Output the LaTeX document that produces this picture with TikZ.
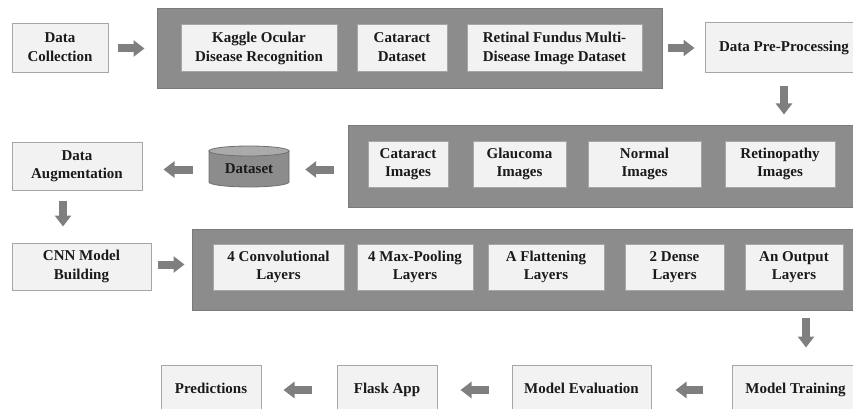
\documentclass[tikz,border=0pt]{standalone}
\usepackage{fontspec}
\setmainfont{Liberation Serif}
\usetikzlibrary{arrows.meta,calc}
\definecolor{boxfill}{HTML}{F2F2F2}
\definecolor{boxline}{HTML}{A6A6A6}
\definecolor{contfill}{HTML}{8C8C8C}
\definecolor{contline}{HTML}{7A7A7A}
\definecolor{arrowgray}{HTML}{7F7F7F}
\definecolor{cylbody}{HTML}{8C8C8C}
\definecolor{cyltop}{HTML}{AAAAAA}
\definecolor{cylline}{HTML}{6E6E6E}
\definecolor{txt}{HTML}{1A1A1A}
\newcommand\mystrut{\rule[-3pt]{0pt}{13pt}}
\begin{document}
\begin{tikzpicture}[x=1pt,y=-1pt,
  every node/.style={font=\fontsize{15}{18.5}\selectfont\bfseries, text=txt, align=center, inner sep=0pt,
    execute at begin node=\mystrut, execute at end node=\mystrut},
  stepbox/.style={draw=boxline, fill=boxfill, line width=1pt},
  container/.style={draw=contline, fill=contfill, line width=1pt},
  ba/.style={draw=arrowgray, line width=8pt, -{Triangle[length=11pt,width=16pt]}},
]
\useasboundingbox (0,0) rectangle (853,409);

% Row 1
\node[stepbox, minimum width=96, minimum height=49] (dc) at (60,48.5) {Data\\Collection};
\node[container, minimum width=505, minimum height=80] (c1) at (409.5,49) {};
\node[stepbox, minimum width=156, minimum height=47] (k1) at (259,48.5) {Kaggle Ocular\\Disease Recognition};
\node[stepbox, minimum width=90, minimum height=47] (k2) at (402,48.5) {Cataract\\Dataset};
\node[stepbox, minimum width=175, minimum height=47] (k3) at (554.5,48.5) {Retinal Fundus Multi-\\Disease Image Dataset};
\node[stepbox, minimum width=158, minimum height=50] (dpp) at (784,48) {Data Pre-Processing};

% Row 2
\node[container, minimum width=510, minimum height=82] (c2) at (603,166) {};
\node[stepbox, minimum width=80, minimum height=46] (ci1) at (408,164) {Cataract\\Images};
\node[stepbox, minimum width=93, minimum height=46] (ci2) at (519.5,164) {Glaucoma\\Images};
\node[stepbox, minimum width=113, minimum height=46] (ci3) at (644.5,164) {Normal\\Images};
\node[stepbox, minimum width=110, minimum height=46] (ci4) at (780,164) {Retinopathy\\Images};

\coordinate (dsc) at (249,166.5);
\fill[cylbody, draw=cylline, line width=0.8pt] ($(dsc)+(-40,-15.5)$) -- ($(dsc)+(-40,15.5)$)
  arc[start angle=180, end angle=360, x radius=40pt, y radius=5pt] -- ($(dsc)+(40,-15.5)$) -- cycle;
\draw[fill=cyltop, draw=cylline, line width=0.8pt] ($(dsc)+(0,-15.5)$) ellipse[x radius=40pt, y radius=5pt];
\node[minimum width=80, minimum height=41] (ds) at ($(dsc)+(0,3)$) {Dataset};

\node[stepbox, minimum width=130, minimum height=48] (da) at (77,166) {Data\\Augmentation};

% Row 3
\node[stepbox, minimum width=139, minimum height=47] (cnn) at (81.5,266.5) {CNN Model\\Building};
\node[container, minimum width=662, minimum height=81] (c3) at (523,269.5) {};
\node[stepbox, minimum width=131, minimum height=46] (l1) at (278.5,267) {4 Convolutional\\Layers};
\node[stepbox, minimum width=116, minimum height=46] (l2) at (415,267) {4 Max-Pooling\\Layers};
\node[stepbox, minimum width=116, minimum height=46] (l3) at (546,267) {A Flattening\\Layers};
\node[stepbox, minimum width=99, minimum height=46] (l4) at (674.5,267) {2 Dense\\Layers};
\node[stepbox, minimum width=98, minimum height=46] (l5) at (794,267) {An Output\\Layers};

% Row 4
\node[stepbox, minimum width=100, minimum height=50] (pred) at (211,390) {Predictions};
\node[stepbox, minimum width=100, minimum height=50] (fa) at (387,390) {Flask App};
\node[stepbox, minimum width=139, minimum height=50] (me) at (581.5,390) {Model Evaluation};
\node[stepbox, minimum width=127, minimum height=50] (mt) at (795.5,390) {Model Training};

% Arrows
\draw[ba, shorten <=9pt, shorten >=12pt] (dc.east) -- (dc.east -| c1.west);
\draw[ba, shorten <=5pt, shorten >=10pt] (c1.east |- dpp.west) -- (dpp.west);
\draw[ba, shorten <=13pt, shorten >=10pt] (dpp.south) -- (dpp.south |- c2.north);
\draw[ba, shorten <=14pt, shorten >=16pt] (c2.west |- ds.east) -- (ds.east);
\draw[ba, shorten <=16pt, shorten >=21pt] (ds.west) -- (ds.west -| da.east);
\coordinate (dad) at ($(da.south)+(-14,0)$);
\draw[ba, shorten <=10pt, shorten >=16pt] (dad) -- (dad |- cnn.north);
\draw[ba, shorten <=6pt, shorten >=7pt] ($(cnn.east)+(0,-2)$) -- ($(cnn.east -| c3.west)+(0,-2)$);
\coordinate (c3d) at (c3.south -| {(806,0)});
\draw[ba, shorten <=7pt, shorten >=17pt] (c3d) -- (c3d |- mt.north);
\draw[ba, shorten <=29pt, shorten >=24pt] (mt.west) -- (me.east);
\draw[ba, shorten <=23pt, shorten >=23pt] (me.west) -- (fa.east);
\draw[ba, shorten <=25pt, shorten >=22pt] (fa.west) -- (pred.east);
\end{tikzpicture}
\end{document}
